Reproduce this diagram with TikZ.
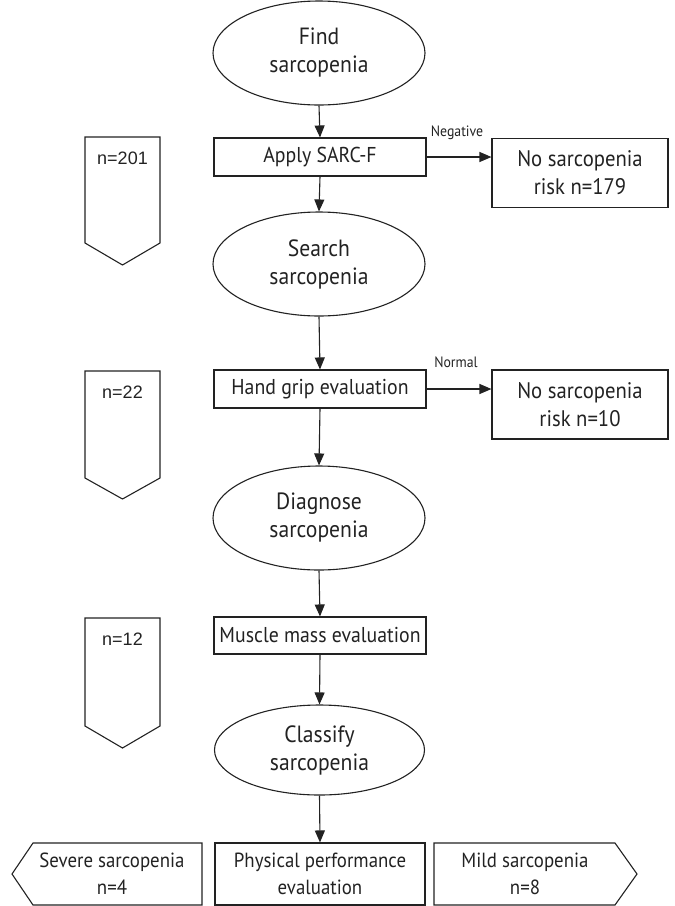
\documentclass[tikz,border=0pt]{standalone}
\usepackage{fontspec}
\setmainfont{PT Sans}[FakeStretch=0.92]
\newfontfamily\arialfont{Liberation Sans}
\usetikzlibrary{shapes.geometric,arrows.meta}
\definecolor{ink}{HTML}{222222}
\begin{document}
\begin{tikzpicture}[x=1pt,y=-1pt,line width=1.1pt,draw=ink,text=ink,
  ell/.style={ellipse,draw,inner sep=0pt,minimum width=212pt,minimum height=104pt,align=center,font=\fontsize{23.5}{28}\selectfont},
  box/.style={rectangle,draw,inner sep=0pt,align=center,font=\fontsize{21.5}{28}\selectfont},
  arr/.style={-{Triangle[length=12pt,width=10pt]}},
  lbl/.style={font=\fontsize{15}{16}\selectfont},
  cnt/.style={font=\arialfont\fontsize{18}{20}\selectfont},
  bottomtxt/.style={align=center,font=\fontsize{20.5}{27}\selectfont}]
\useasboundingbox (0,0) rectangle (675,906);
% main column
\node[ell] (find) at (319,53) {Find\\sarcopenia};
\node[box,minimum width=212pt,minimum height=38pt] (sarc) at (320,157) {Apply SARC-F};
\node[box,minimum width=176pt,minimum height=69pt,font=\fontsize{22.5}{28}\selectfont] (nsr1) at (580,173) {No sarcopenia\\risk n=179};
\node[ell] (search) at (319,264) {Search\\sarcopenia};
\node[box,minimum width=212pt,minimum height=38pt] (grip) at (320,389) {Hand grip evaluation};
\node[box,minimum width=176pt,minimum height=69pt,font=\fontsize{22.5}{28}\selectfont] (nsr2) at (580,404.5) {No sarcopenia\\risk n=10};
\node[ell] (diag) at (319,518) {Diagnose\\sarcopenia};
\node[box,minimum width=212pt,minimum height=37pt] (muscle) at (320,635.5) {Muscle mass evaluation};
\node[ell,minimum width=210pt,minimum height=90pt] (classify) at (319.5,750) {Classify\\sarcopenia};
\node[box,minimum width=210pt,minimum height=62pt,font=\fontsize{20.5}{27}\selectfont] (phys) at (320,874) {Physical performance\\evaluation};
% bottom side pentagons
\draw (12,874) -- (33,843) -- (202,843) -- (202,905) -- (33,905) -- cycle;
\node[bottomtxt] (severe) at (112,874) {Severe sarcopenia\\n=4};
\draw (434,843) -- (615,843) -- (637,874) -- (615,905) -- (434,905) -- cycle;
\node[bottomtxt] (mild) at (525,874) {Mild sarcopenia\\n=8};
% left count pentagons
\draw (85,137) -- (160,137) -- (160,243) -- (122.5,265) -- (85,243) -- cycle;
\node[cnt] (c1) at (122.5,158) {n=201};
\draw (85,371) -- (160,371) -- (160,478) -- (122.5,499) -- (85,478) -- cycle;
\node[cnt] (c2) at (122.5,392) {n=22};
\draw (85,618) -- (160,618) -- (160,726) -- (122.5,748) -- (85,726) -- cycle;
\node[cnt] (c3) at (122.5,639) {n=12};
% connectors
\draw[arr] (find.south) -- (sarc.north);
\draw[arr] (sarc.south) -- (search.north);
\draw[arr] (sarc.east) -- (sarc.east -| nsr1.west);
\node[lbl] (neg) at (457,133) {Negative};
\draw[arr] (search.south) -- (grip.north);
\draw[arr] (grip.east) -- (grip.east -| nsr2.west);
\node[lbl] (norm) at (456,362) {Normal};
\draw[arr] (grip.south) -- (diag.north);
\draw[arr] (diag.south) -- (muscle.north);
\draw[arr] (muscle.south) -- (classify.north);
\draw[arr] (classify.south) -- (phys.north);
\end{tikzpicture}
\end{document}
